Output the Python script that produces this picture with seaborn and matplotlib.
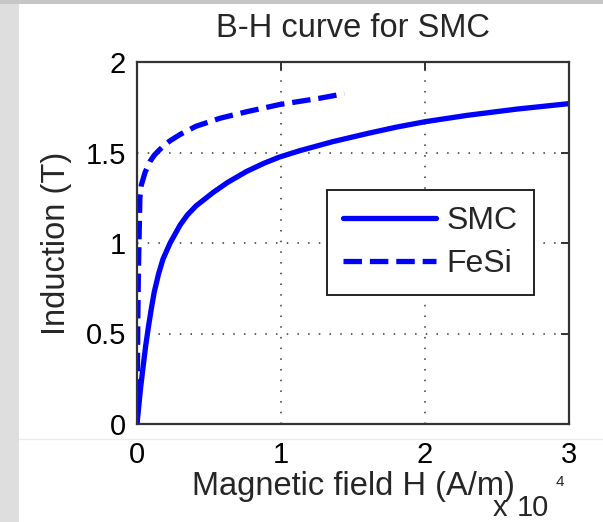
import numpy as np
import pandas as pd
import matplotlib
matplotlib.use("Agg")
import matplotlib.pyplot as plt
import seaborn as sns
from matplotlib.patches import Rectangle
from matplotlib.lines import Line2D

# ---- data (H in A/m, B in T) ----
smc_h = [0, 100, 250, 400, 600, 800, 1000, 1200, 1500, 1800, 2300, 3000, 3500,
         4100, 5300, 6300, 7600, 8800, 9900, 11300, 13600, 16000, 18000,
         20000, 22900, 26400, 30000]
smc_b = [0, 0.08, 0.20, 0.30, 0.43, 0.54, 0.64, 0.73, 0.83, 0.91, 1.00, 1.10,
         1.155, 1.205, 1.28, 1.335, 1.395, 1.44, 1.475, 1.51, 1.56, 1.605,
         1.64, 1.67, 1.705, 1.74, 1.77]
fesi_h = [0, 30, 60, 100, 150, 200, 300, 560, 900, 1200, 1500, 1900, 2300,
          3000, 4100, 5800, 7600, 9900, 12700, 14400]
fesi_b = [0, 0.3, 0.6, 0.85, 1.05, 1.25, 1.32, 1.39, 1.45, 1.485, 1.51, 1.54,
          1.565, 1.60, 1.645, 1.69, 1.725, 1.765, 1.80, 1.825]

title = "B-H curve for SMC"
xlabel = "Magnetic field H (A/m)"
ylabel = "Induction (T)"
x_ticks = [0, 10000, 20000, 30000]
x_tick_labels = ["0", "1", "2", "3"]
y_ticks = [0, 0.5, 1, 1.5, 2]
y_tick_labels = ["0", "0.5", "1", "1.5", "2"]

sns.set_style("white")
plt.rcParams["font.family"] = ["Liberation Sans", "DejaVu Sans"]

fig = plt.figure(figsize=(6.03, 5.22), dpi=100)
fig.patch.set_facecolor("white")

# slide background strips
fig.add_artist(Rectangle((0, 0), 19 / 603, 1, transform=fig.transFigure,
                         facecolor="#dedede", edgecolor="none", zorder=0))
fig.add_artist(Rectangle((0, 1 - 4 / 522), 1, 4 / 522, transform=fig.transFigure,
                         facecolor="#c6c6c6", edgecolor="none", zorder=0))
fig.add_artist(Line2D([19 / 603, 1], [1 - 439 / 522] * 2, transform=fig.transFigure,
                      color="#ececec", lw=1, zorder=0))

ax = fig.add_axes([137 / 603, 98 / 522, 432 / 603, 362 / 522])

df_s = pd.DataFrame({"H": smc_h, "B": smc_b, "Material": "SMC"})
df_f = pd.DataFrame({"H": fesi_h, "B": fesi_b, "Material": "FeSi"})

sns.lineplot(data=df_s, x="H", y="B", ax=ax, color="#0000ff", lw=3.8,
             sort=False, estimator=None, label="SMC")
sns.lineplot(data=df_f, x="H", y="B", ax=ax, color="#0000ff", lw=3.8,
             sort=False, estimator=None, label="FeSi")
ax.lines[1].set_dashes((3.5, 1.5))

ax.set_xlim(0, 30000)
ax.set_ylim(0, 2)
ax.set_xticks(x_ticks)
ax.set_xticklabels(x_tick_labels)
ax.set_yticks(y_ticks)
ax.set_yticklabels(y_tick_labels)

ax.grid(True, color="#333333", linestyle=(0, (1, 6)), lw=1.1)
for s in ax.spines.values():
    s.set_color("#333333")
    s.set_linewidth(1.6)
    s.set_visible(True)
ax.tick_params(direction="in", length=6, width=1.4, color="#333333",
               top=True, right=True, labelsize=21, labelcolor="black")
ax.tick_params(axis="x", pad=12)
ax.tick_params(axis="y", pad=8)

ax.set_title(title, fontsize=23.5, pad=18)
ax.set_xlabel(xlabel, fontsize=23.5, labelpad=2)
ax.set_ylabel(ylabel, fontsize=23.5, labelpad=10)

# MATLAB-style exponent
fig.text(500 / 603, 1 - 516 / 522, "x", fontsize=21, ha="center", va="baseline")
fig.text(517 / 603, 1 - 516 / 522, "10", fontsize=21, ha="left", va="baseline")
fig.text(556 / 603, 1 - 486 / 522, "4", fontsize=11, ha="left", va="baseline")

leg = ax.legend(loc="upper left", bbox_to_anchor=(0.44, 0.646), borderaxespad=0,
                fontsize=23, handlelength=2.9, frameon=True, fancybox=False,
                edgecolor="#222222", framealpha=1, borderpad=0.5,
                labelspacing=0.4, handletextpad=0.35)
leg.get_frame().set_linewidth(1.4)
leg.get_lines()[1].set_dashes((3.5, 1.5))

fig.savefig("out.png", dpi=100)
